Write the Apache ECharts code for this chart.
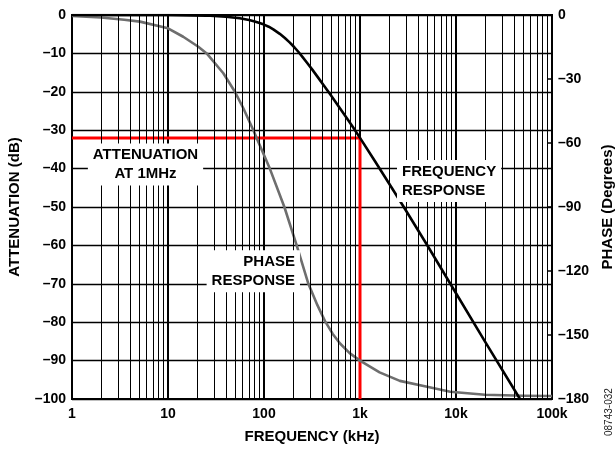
<!DOCTYPE html>
<html>
<head>
<meta charset="utf-8">
<script src="https://cdn.jsdelivr.net/npm/echarts@6/dist/echarts.min.js"></script>
<style>
html,body{margin:0;padding:0;background:#fff;}
#chart{width:616px;height:450px;}
</style>
</head>
<body>
<div id="chart"></div>
<script>
// ---- data ----
const freqMag = [1, 10, 25, 40, 56, 70, 80, 90, 100, 112, 125, 146, 165, 186, 207, 230, 255, 278, 320, 360, 420, 487, 600, 727, 850, 1000, 1433, 2000, 2826, 5000, 9376, 20000, 46400];
const magDb   = [0, 0, -0.15, -0.45, -0.85, -1.3, -1.7, -2.1, -2.5, -3.05, -3.75, -4.9, -6.0, -7.2, -8.4, -9.7, -11.1, -12.3, -14.3, -16.05, -18.35, -20.6, -23.8, -26.8, -29.3, -32, -38.1, -43.8, -49.8, -59.9, -71.3, -85, -100];

const freqPh   = [1, 2, 3.5, 5.1, 10, 14.4, 20.7, 25.3, 37.7, 49.8, 60.9, 77.5, 84, 115, 163, 219, 290, 360, 432, 520, 620, 780, 1000, 1600, 2600, 5000, 8700, 20000, 50000, 100000];
const phaseDeg = [-0.5, -1.2, -2.2, -3.1, -6.25, -10.2, -14.9, -18, -27.3, -36, -43.7, -54, -57.8, -72, -90, -108, -126, -136, -143.5, -149.5, -154, -158.5, -162, -167.5, -171.5, -174.3, -176.6, -178, -178.5, -178.6];

const markerF  = [1, 1000, 1000];
const markerDb = [-32, -32, -100];

const xTickLabels = {1: '1', 10: '10', 100: '100', 1000: '1k', 10000: '10k', 100000: '100k'};
const decades = [1, 10, 100, 1000, 10000];
const minorMultipliers = [2, 3, 4, 5, 6, 7, 8, 9];

const notes = [
  {text: 'ATTENUATION\nAT 1MHz', f: 5.83, db: -38.9, align: 'center'},
  {text: 'FREQUENCY\nRESPONSE', f: 2429, db: -43.2, align: 'left'},
  {text: 'PHASE\nRESPONSE', f: 237, db: -66.7, align: 'right'}
];

// ---- build ----
const FONT = '"Liberation Sans", Arial, Helvetica, sans-serif';
const minorGrid = [];
decades.forEach(d => minorMultipliers.forEach(m => minorGrid.push({xAxis: d * m})));
const dash = v => (v < 0 ? '\u2013' + Math.abs(v) : String(v));

const chart = echarts.init(document.getElementById('chart'), null, {renderer: 'canvas'});
chart.setOption({
  animation: false,
  backgroundColor: '#fff',
  grid: {left: 72, right: 64, top: 15, bottom: 51, containLabel: false, outerBoundsMode: 'none',
    show: true, borderColor: '#000', borderWidth: 2, backgroundColor: 'transparent'},
  xAxis: {
    type: 'log', logBase: 10, min: 1, max: 100000,
    name: 'FREQUENCY (kHz)', nameLocation: 'middle', nameGap: 30,
    nameTextStyle: {fontFamily: FONT, fontWeight: 'bold', fontSize: 15, color: '#000'},
    axisLine: {show: true, lineStyle: {color: '#000', width: 2}},
    axisTick: {show: false},
    splitLine: {show: true, lineStyle: {color: '#000', width: 2}},
    minorTick: {show: false}, minorSplitLine: {show: false},
    axisLabel: {fontFamily: FONT, fontWeight: 'bold', fontSize: 14, color: '#000', margin: 8,
      formatter: v => xTickLabels[Math.round(v)] || ''}
  },
  yAxis: [
    {
      type: 'value', min: -100, max: 0, interval: 10, position: 'left',
      name: 'ATTENUATION (dB)', nameLocation: 'middle', nameGap: 50, nameRotate: 90,
      nameTextStyle: {fontFamily: FONT, fontWeight: 'bold', fontSize: 15, color: '#000'},
      axisLine: {show: true, lineStyle: {color: '#000', width: 2}},
      axisTick: {show: false},
      splitLine: {show: true, lineStyle: {color: '#000', width: 1.3}},
      axisLabel: {fontFamily: FONT, fontWeight: 'bold', fontSize: 14, color: '#000', margin: 6, formatter: dash}
    },
    {
      type: 'value', min: -180, max: 0, interval: 30, position: 'right',
      name: 'PHASE (Degrees)', nameLocation: 'middle', nameGap: 38, nameRotate: 90,
      nameTextStyle: {fontFamily: FONT, fontWeight: 'bold', fontSize: 15, color: '#000'},
      axisLine: {show: true, lineStyle: {color: '#000', width: 2}},
      axisTick: {show: true, inside: true, length: 5, lineStyle: {color: '#000', width: 1.5}},
      splitLine: {show: false},
      axisLabel: {fontFamily: FONT, fontWeight: 'bold', fontSize: 14, color: '#000', margin: 6, formatter: dash}
    }
  ],
  graphic: [{
    type: 'text', right: 2, bottom: 14, rotation: Math.PI / 2,
    style: {text: '08743-032', fontFamily: FONT, fontSize: 10, fill: '#222'}
  }],
  series: [
    {
      name: 'minorgrid', type: 'line', z: 1, silent: true,
      data: [[1, 0]], symbol: 'none', lineStyle: {width: 0},
      markLine: {silent: true, symbol: ['none', 'none'], label: {show: false},
        lineStyle: {color: '#000', width: 1, type: 'solid'}, data: minorGrid}
    },
    {
      name: 'notes', type: 'custom', z: 10, silent: true,
      coordinateSystem: 'cartesian2d',
      data: notes.map(n => [n.f, n.db]),
      renderItem: function (params, api) {
        const n = notes[params.dataIndex];
        const p = api.coord([api.value(0), api.value(1)]);
        return {
          type: 'text', z2: 100,
          style: {
            text: n.text, x: p[0], y: p[1], align: n.align, verticalAlign: 'middle',
            font: 'bold 15px ' + FONT, lineHeight: 19, fill: '#000',
            backgroundColor: '#fff', padding: [2, 5]
          }
        };
      }
    },
    {
      name: 'marker', type: 'line', z: 3, silent: true, symbol: 'none',
      data: markerF.map((f, i) => [f, markerDb[i]]),
      lineStyle: {color: '#ff0000', width: 3}
    },
    {
      name: 'PHASE RESPONSE', type: 'line', z: 4, yAxisIndex: 1, symbol: 'none',
      data: freqPh.map((f, i) => [f, phaseDeg[i]]),
      lineStyle: {color: '#6e6e6e', width: 2.6, join: 'round'}
    },
    {
      name: 'FREQUENCY RESPONSE', type: 'line', z: 5, symbol: 'none',
      data: freqMag.map((f, i) => [f, magDb[i]]),
      lineStyle: {color: '#000', width: 2.6, join: 'round'}
    }
  ]
});
</script>
</body>
</html>
